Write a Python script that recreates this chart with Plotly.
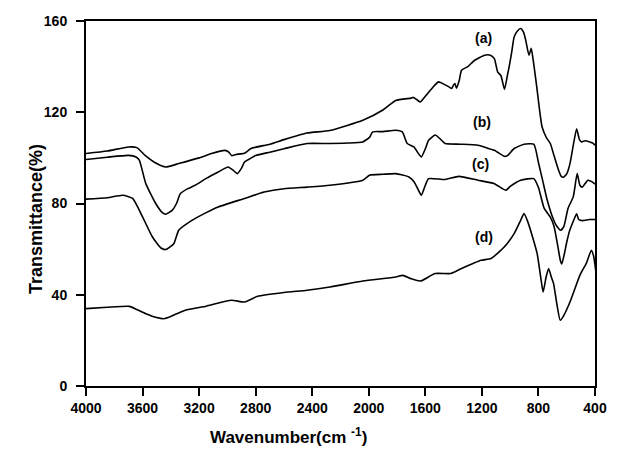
import plotly.graph_objects as go

# ---- data ----
wn_a = [4000, 3850, 3700, 3640, 3580, 3500, 3437, 3344, 3200, 3112, 3018, 2990, 2970, 2940, 2880,
        2833, 2700, 2600, 2437, 2275, 2042, 1900, 1809, 1700, 1684, 1660, 1635, 1600, 1560, 1507,
        1460, 1430, 1414, 1400, 1391, 1380, 1360, 1344, 1300, 1251, 1181, 1140, 1112, 1088, 1065,
        1040, 1020, 1007, 990, 972, 950, 925, 905, 890, 867, 851, 837, 820, 809, 790, 774, 745,
        716, 690, 660, 640, 625, 600, 577, 555, 530, 510, 495, 470, 437, 415, 400]
t_a = [101.9, 103, 104.8, 104.5, 101, 97.5, 96, 97.5, 100, 101.9, 103.3, 102.5, 101, 101.5, 102,
       104.1, 106, 108, 110.9, 112, 116.5, 121, 125.2, 126.2, 126.5, 125.5, 124.5, 127, 130, 133.3,
       132, 131, 130.4, 132, 132.6, 130.5, 134, 138.4, 140, 142.8, 145, 145, 143.5, 137.6, 136,
       130, 136, 140, 146, 153, 155.5, 156.7, 155, 151.6, 145, 148, 142.8, 135, 129.6, 120, 113.5, 109,
       106.3, 101, 95, 92, 91.5, 93, 97.5, 105, 112.8, 108, 107, 107.5, 107, 106.5, 105.5]

wn_b = [4000, 3850, 3700, 3646, 3623, 3577, 3507, 3460, 3437, 3391, 3360, 3333, 3280, 3228, 3150,
        3065, 2995, 2960, 2930, 2900, 2879, 2844, 2800, 2700, 2600, 2437, 2275, 2150, 2042, 1995,
        1972, 1900, 1809, 1763, 1728, 1681, 1650, 1628, 1600, 1577, 1530, 1490, 1460, 1350, 1228,
        1112, 1042, 1019, 972, 902, 833, 800, 770, 740, 700, 670, 642, 620, 590, 554, 526, 507,
        490, 450, 420, 400]
t_b = [99.3, 100.3, 101.1, 100.4, 99, 88.7, 80, 76, 75.3, 77, 80, 84.3, 86.5, 88, 91,
       93.8, 96, 94.6, 93.1, 95.5, 98.2, 99.5, 101, 102.5, 104, 106.3, 106.3, 106.5, 107, 109,
       111.4, 111.5, 112.1, 111.4, 106.3, 104.8, 102, 100.4, 104, 107.7, 110, 108, 106.3, 106, 105.5,
       103.3, 100.7, 101, 104.1, 106, 106, 98, 90, 82, 74, 70, 68.3, 70, 78, 82.9, 93.1, 88,
       87.2, 90.2, 89.5, 88.5]

wn_c = [4000, 3850, 3740, 3670, 3600, 3530, 3470, 3437, 3379, 3344, 3251, 3150, 3065, 2879, 2740,
        2600, 2437, 2275, 2042, 1995, 1900, 1809, 1716, 1680, 1650, 1628, 1600, 1577, 1460, 1363,
        1228, 1112, 1030, 1000, 926, 833, 800, 760, 716, 690, 665, 645, 635, 620, 600, 580, 555,
        530, 515, 490, 440, 400]
t_c = [81.9, 82.5, 83.6, 82.2, 74.1, 65.3, 60.5, 59.8, 62.4, 68.3, 72.6, 76, 78.5, 82.2, 85,
       86.5, 87.2, 88, 90.2, 92.4, 92.8, 93.1, 91.6, 89.5, 86, 83.6, 88, 90.9, 90.5, 91.9,
       90.2, 88.7, 85.8, 87.5, 90.2, 90.9, 87, 78, 74, 70, 62, 55, 53.5, 57, 63, 68, 72,
       75.5, 73, 72.5, 73, 73]

wn_d = [4000, 3850, 3693, 3640, 3577, 3500, 3449, 3400, 3298, 3150, 2972, 2879, 2786, 2600, 2437,
        2275, 2042, 1809, 1760, 1700, 1635, 1530, 1420, 1344, 1205, 1135, 1042, 972, 926, 902,
        879, 840, 809, 780, 767, 745, 728, 710, 693, 670, 646, 620, 577, 507, 460, 426, 410, 395]
t_d = [33.9, 34.5, 34.9, 33.5, 31.7, 30, 29.5, 30.5, 33.2, 35, 37.6, 36.8, 39.3, 41, 42,
       43.4, 46, 47.8, 48.5, 47, 46, 49.3, 49.3, 51.5, 55.1, 55.9, 60.9, 66.8, 72.6, 75.6,
       72.6, 65, 58, 46, 41.2, 48, 51.5, 48, 44.9, 36, 28.8, 31, 36.8, 48.5, 54, 59.5, 57, 50.7]

series = [(wn_a, t_a), (wn_b, t_b), (wn_c, t_c), (wn_d, t_d)]

labels = ["(a)", "(b)", "(c)", "(d)"]
label_x = [1188, 1200, 1210, 1188]
label_y = [152.4, 115.6, 97.2, 65.2]

x_ticks = [4000, 3600, 3200, 2800, 2400, 2000, 1600, 1200, 800, 400]
y_ticks = [0, 40, 80, 120, 160]

FONT = "Liberation Sans, Arial, sans-serif"

fig = go.Figure()
for wn, t in series:
    fig.add_trace(go.Scatter(x=wn, y=t, mode="lines",
                             line=dict(color="black", width=1.6, shape="spline", smoothing=0.5),
                             showlegend=False, hoverinfo="skip"))

for lab, lx, ly in zip(labels, label_x, label_y):
    fig.add_annotation(x=lx, y=ly, text=lab, showarrow=False, xref="x", yref="y",
                       font=dict(family=FONT, size=14, color="black", weight="bold"))

fig.add_annotation(x=0.397, y=-0.172, xref="paper", yref="paper",
                   text="Wavenumber(cm <sup>-1</sup>)", showarrow=False,
                   font=dict(family=FONT, size=17, color="black", weight="bold"))
fig.add_annotation(x=-0.122, y=0.457, xref="paper", yref="paper",
                   text="Transmittance(%)", showarrow=False, textangle=-90,
                   font=dict(family=FONT, size=18, color="black", weight="bold"))

fig.update_layout(
    width=619, height=453,
    margin=dict(l=86, r=17, t=21, b=67),
    paper_bgcolor="white", plot_bgcolor="white",
    xaxis=dict(range=[4000, 400], tickvals=x_ticks, ticktext=[str(v) for v in x_ticks],
               showgrid=False, zeroline=False, showline=True, linecolor="black", linewidth=2,
               mirror=True, ticks="outside", ticklen=8, tickwidth=1.5, tickcolor="black",
               tickfont=dict(family=FONT, size=14, color="black", weight="bold")),
    yaxis=dict(range=[0, 160], tickvals=y_ticks, ticktext=[str(v) for v in y_ticks],
               showgrid=False, zeroline=False, showline=True, linecolor="black", linewidth=2,
               mirror=True, ticks="outside", ticklen=8, tickwidth=1.5, tickcolor="black",
               ticklabelstandoff=6,
               tickfont=dict(family=FONT, size=14, color="black", weight="bold")),
)

fig.write_html("out.html")
